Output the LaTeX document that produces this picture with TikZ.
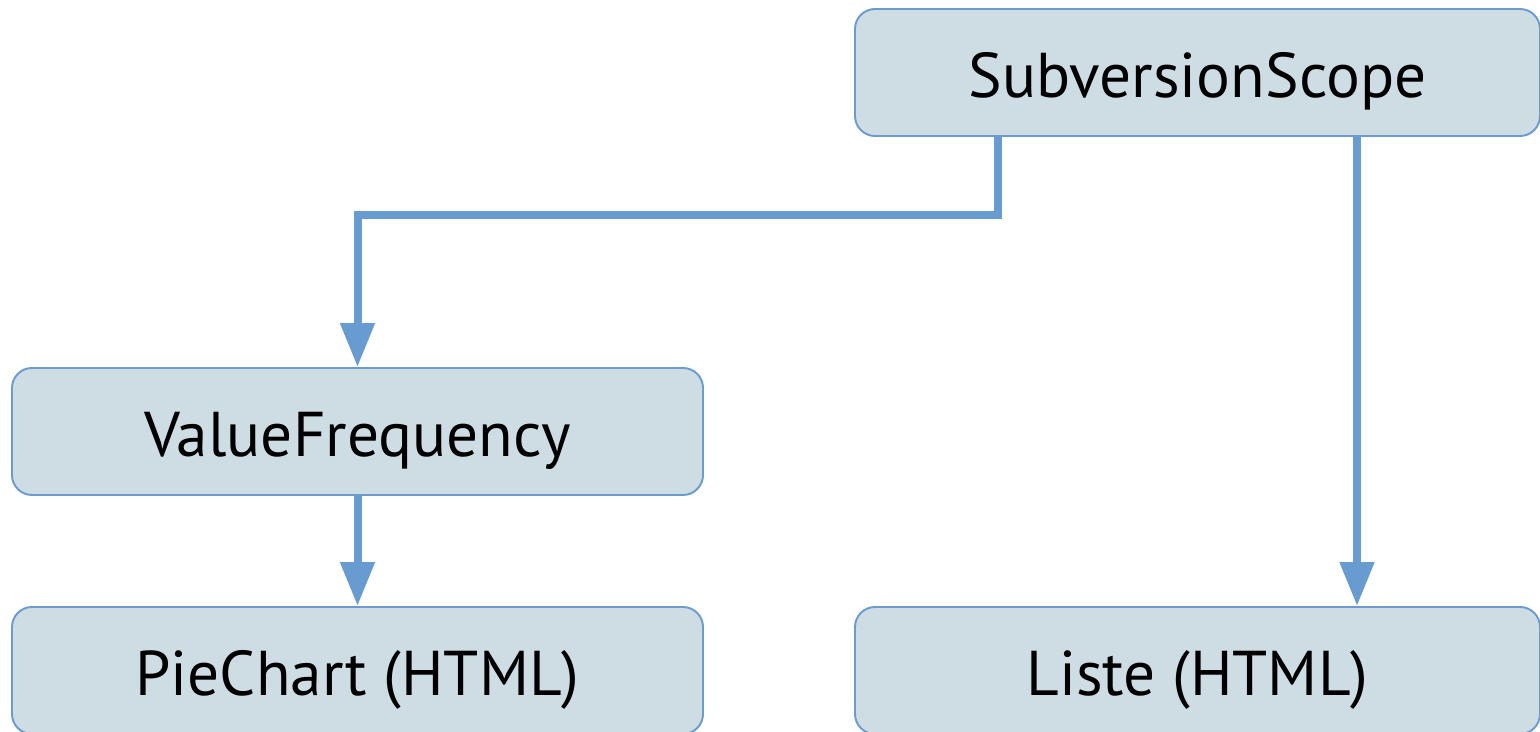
\documentclass[tikz,border=0pt]{standalone}
\usepackage{fontspec}
\setmainfont{PT Sans}
\usetikzlibrary{positioning}
\usetikzlibrary{calc}
\usetikzlibrary{arrows.meta}
\definecolor{boxfill}{RGB}{206,221,228}
\definecolor{boxline}{RGB}{108,155,205}
\definecolor{flowline}{RGB}{104,155,207}
\tikzset{
    % Rounded boxes for each component
    component/.style={
        draw=boxline, line width=1.1pt, fill=boxfill,
        rounded corners=0.4cm, minimum height=2.54cm,
        text height=28.4pt, text depth=0pt,
        font=\fontsize{36}{40}\selectfont},
%
    % Thick blue data flow arrows
    flow/.style={
        draw=flowline, line width=0.16cm,
        -{Triangle[length=0.88cm, width=0.66cm]}}}

\begin{document}
\begin{tikzpicture}

% Page area
\useasboundingbox (0,0) rectangle (30.8,14.64);

\node [component, minimum width=13.7cm] (scope) at (23.95,13.19)
    {SubversionScope};
\node [component, minimum width=13.82cm] (valfreq) at (7.15,6.01)
    {ValueFrequency};
\node [component, minimum width=13.82cm] (pie) at (7.15,1.23)
    {PieChart (HTML)};
\node [component, minimum width=13.7cm] (liste) at (23.95,1.23)
    {Liste (HTML)};

\coordinate (bend) at (19.96,10.34);
\coordinate (drop) at (27.14,0);

\draw [flow] (bend |- scope.south) -- (bend) -| (valfreq.north);
\draw [flow] (drop |- scope.south) -- (drop |- liste.north);
\draw [flow] (valfreq.south) -- (pie.north);

\end{tikzpicture}
\end{document}
